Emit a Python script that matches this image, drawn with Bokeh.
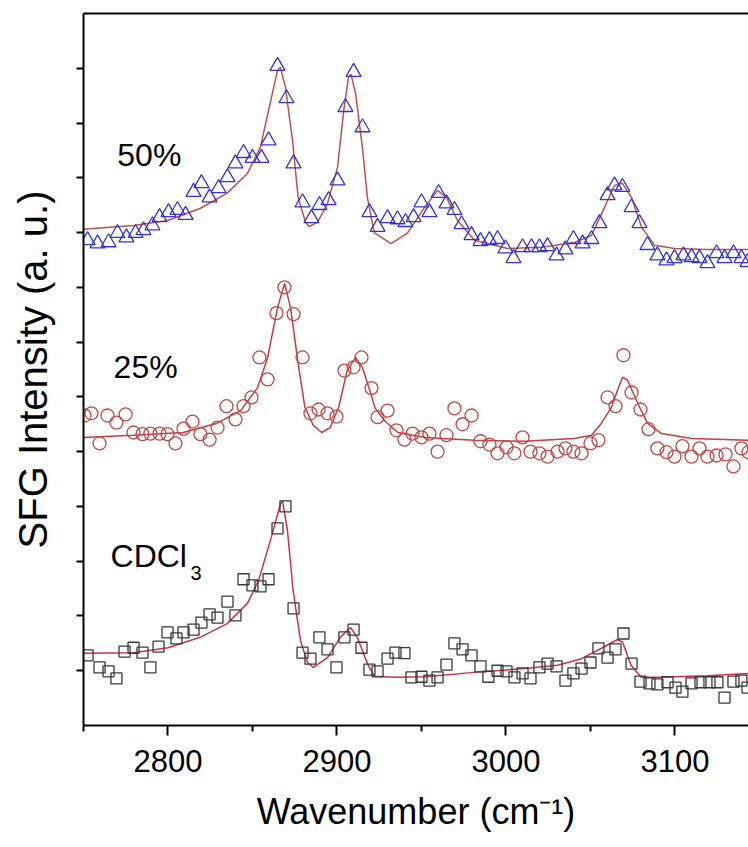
from bokeh.plotting import figure
from bokeh.models import Label, LinearAxis, FixedTicker, Range1d
from bokeh.embed import file_html
from bokeh.resources import INLINE

# ---------------- data ----------------
# 50 % sample (triangles)
w50 = [2752.4, 2758.3, 2764.8, 2770.1, 2775.4, 2780.8, 2785.5, 2790.8, 2795.0, 2800.3,
       2805.6, 2810.4, 2815.1, 2819.8, 2824.6, 2829.9, 2835.2, 2839.9, 2844.7, 2850.0,
       2855.3, 2859.5, 2864.8, 2870.1, 2874.3, 2879.6, 2884.9, 2889.6, 2895.0, 2900.3,
       2905.0, 2909.8, 2915.1, 2919.2, 2924.0, 2929.9, 2935.8, 2940.5, 2945.3, 2950.0,
       2954.7, 2960.1, 2964.8, 2969.5, 2973.7, 2979.6, 2984.9, 2990.2, 2995.0, 2999.7,
       3004.4, 3009.8, 3015.1, 3019.8, 3024.6, 3029.9, 3035.2, 3039.9, 3045.3, 3050.6,
       3055.3, 3060.1, 3064.2, 3068.9, 3074.3, 3079.0, 3083.7, 3089.6, 3095.0, 3099.7,
       3105.0, 3109.8, 3114.5, 3119.2, 3124.6, 3129.3, 3134.6, 3139.3, 3142.9]
i50 = [8.86, 8.80, 8.82, 8.99, 8.91, 8.99, 9.04, 9.13, 9.28, 9.37,
       9.41, 9.32, 9.74, 9.90, 9.64, 9.81, 10.01, 10.26, 10.45, 10.36,
       10.36, 10.68, 12.04, 11.45, 10.26, 9.55, 9.26, 9.50, 9.59, 9.95,
       11.29, 11.93, 10.92, 9.37, 9.10, 9.26, 9.24, 9.19, 9.28, 9.55,
       9.37, 9.72, 9.53, 9.41, 9.15, 8.95, 8.84, 8.86, 8.88, 8.71,
       8.53, 8.73, 8.73, 8.73, 8.75, 8.58, 8.69, 8.88, 8.80, 8.88,
       9.17, 9.68, 9.86, 9.83, 9.46, 9.17, 8.77, 8.58, 8.49, 8.53,
       8.58, 8.55, 8.53, 8.44, 8.62, 8.53, 8.62, 8.53, 8.46]
fw50 = [2750.0, 2779.6, 2799.7, 2819.0, 2835.0, 2847.0, 2854.7, 2859.5, 2864.8, 2866.5,
        2869.5, 2873.7, 2877.0, 2881.4, 2883.5, 2888.5, 2894.4, 2900.3, 2904.0, 2906.8,
        2908.3, 2911.0, 2915.0, 2918.0, 2922.0, 2932.0, 2941.7, 2951.8, 2959.5, 2964.8,
        2971.3, 2981.4, 3000.9, 3021.0, 3040.5, 3050.6, 3058.3, 3064.2, 3068.9, 3074.3,
        3080.2, 3087.9, 3099.7, 3119.2, 3143.5]
fi50 = [9.06, 9.13, 9.22, 9.44, 9.72, 10.08, 10.56, 11.23, 11.96, 12.02,
        11.65, 10.68, 9.64, 9.19, 9.11, 9.19, 9.53, 10.19, 11.23, 11.84,
        11.89, 11.54, 10.56, 9.64, 9.00, 8.80, 8.99, 9.46, 9.77, 9.64,
        9.22, 8.86, 8.71, 8.73, 8.82, 8.95, 9.46, 9.86, 9.90, 9.64,
        9.10, 8.77, 8.71, 8.69, 8.69]

# 25 % sample (circles)
w25 = [2750.6, 2754.7, 2759.5, 2764.2, 2769.5, 2774.9, 2779.6, 2784.9, 2789.6, 2795.0,
       2799.7, 2804.4, 2809.2, 2814.5, 2819.2, 2824.6, 2829.3, 2834.6, 2839.9, 2844.7,
       2849.4, 2854.1, 2858.9, 2864.2, 2868.9, 2874.3, 2879.6, 2884.3, 2889.1, 2894.4,
       2899.7, 2904.4, 2909.8, 2914.5, 2920.4, 2924.0, 2929.9, 2935.2, 2939.9, 2944.7,
       2950.0, 2954.7, 2959.5, 2964.8, 2969.5, 2974.3, 2979.6, 2984.9, 2990.2, 2995.0,
       3000.3, 3005.0, 3009.8, 3014.5, 3019.8, 3024.6, 3030.5, 3035.2, 3039.9, 3044.7,
       3050.0, 3054.7, 3060.1, 3064.8, 3069.5, 3074.3, 3079.6, 3084.3, 3089.6, 3095.0,
       3099.7, 3104.4, 3109.8, 3114.5, 3119.2, 3124.6, 3129.9, 3134.6, 3139.3, 3143.5]
i25 = [5.66, 5.70, 5.15, 5.66, 5.53, 5.68, 5.35, 5.32, 5.33, 5.33,
       5.32, 5.15, 5.42, 5.55, 5.32, 5.22, 5.44, 5.83, 5.59, 5.83,
       5.99, 6.72, 6.32, 7.53, 8.00, 7.51, 6.72, 5.70, 5.77, 5.70,
       5.64, 6.48, 6.54, 6.72, 6.16, 5.63, 5.75, 5.39, 5.22, 5.33,
       5.26, 5.33, 5.00, 5.30, 5.79, 5.50, 5.66, 5.19, 5.13, 4.97,
       5.08, 4.97, 5.26, 5.00, 4.97, 4.91, 5.00, 5.06, 5.00, 4.97,
       5.15, 5.21, 5.99, 5.83, 6.76, 6.08, 5.77, 5.41, 5.06, 4.99,
       4.91, 5.10, 4.91, 5.06, 4.91, 4.93, 4.95, 4.73, 5.06, 4.99]
fw25 = [2750.0, 2779.6, 2809.0, 2829.0, 2843.0, 2853.0, 2859.0, 2864.8, 2869.0, 2872.5,
        2877.0, 2881.0, 2886.0, 2891.0, 2896.0, 2901.0, 2906.0, 2911.0, 2915.0, 2920.0,
        2922.5, 2928.0, 2936.0, 2952.0, 2981.0, 3011.0, 3040.5, 3050.6, 3056.5, 3062.4,
        3066.0, 3069.0, 3072.0, 3078.0, 3083.7, 3092.0, 3110.0, 3143.5]
fi25 = [5.26, 5.30, 5.35, 5.52, 5.75, 6.17, 6.72, 7.63, 8.07, 7.63,
        6.61, 5.81, 5.48, 5.35, 5.44, 5.81, 6.48, 6.72, 6.54, 6.06,
        5.80, 5.57, 5.35, 5.26, 5.21, 5.19, 5.24, 5.30, 5.52, 5.81,
        6.12, 6.36, 6.30, 5.88, 5.52, 5.33, 5.24, 5.21]

# neat CDCl3 (squares)
wcd = [2752.4, 2759.5, 2764.8, 2769.5, 2774.3, 2779.6, 2784.9, 2789.6, 2794.4, 2799.7,
       2805.0, 2809.2, 2815.1, 2819.8, 2824.6, 2829.3, 2835.2, 2839.9, 2844.7, 2850.0,
       2854.7, 2859.5, 2864.8, 2869.5, 2874.3, 2879.6, 2884.3, 2889.6, 2894.4, 2899.7,
       2904.4, 2909.8, 2914.5, 2919.2, 2924.0, 2929.9, 2934.6, 2939.9, 2944.1, 2950.0,
       2954.7, 2959.5, 2964.8, 2969.5, 2974.3, 2979.6, 2984.9, 2989.6, 2995.0, 3000.3,
       3005.0, 3009.8, 3014.5, 3019.8, 3024.6, 3029.9, 3035.2, 3039.9, 3044.7, 3050.0,
       3054.7, 3060.1, 3064.8, 3069.5, 3074.3, 3079.6, 3084.9, 3089.6, 3095.6, 3100.3,
       3104.4, 3109.8, 3115.1, 3120.4, 3125.1, 3129.3, 3134.6, 3139.3, 3142.9]
icd = [1.28, 1.06, 0.99, 0.86, 1.35, 1.42, 1.33, 1.06, 1.44, 1.70,
       1.59, 1.70, 1.75, 1.88, 2.03, 1.97, 2.26, 2.01, 2.67, 2.56,
       2.54, 2.67, 3.60, 4.00, 2.14, 1.33, 1.22, 1.61, 1.39, 1.06,
       1.61, 1.75, 1.42, 1.02, 0.99, 1.22, 1.33, 1.32, 0.88, 0.89,
       0.82, 0.88, 1.11, 1.50, 1.39, 1.28, 1.08, 0.89, 1.00, 0.99,
       0.88, 0.95, 0.86, 1.06, 1.13, 1.08, 0.82, 0.95, 1.04, 1.15,
       1.41, 1.24, 1.39, 1.68, 1.13, 0.80, 0.77, 0.75, 0.79, 0.69,
       0.62, 0.77, 0.79, 0.79, 0.79, 0.51, 0.80, 0.82, 0.69]
fwcd = [2750.0, 2779.6, 2800.0, 2819.0, 2835.0, 2847.0, 2853.6, 2860.6, 2866.6, 2867.8,
        2870.7, 2874.0, 2878.4, 2882.5, 2886.0, 2894.4, 2902.0, 2908.0, 2912.0, 2918.0,
        2922.0, 2934.0, 2952.0, 2981.0, 3011.0, 3030.5, 3044.7, 3056.5, 3066.0, 3069.0,
        3074.0, 3080.0, 3089.6, 3119.0, 3143.5]
ficd = [1.32, 1.33, 1.42, 1.61, 1.86, 2.23, 2.65, 3.38, 4.05, 4.09,
        3.56, 2.47, 1.55, 1.15, 1.06, 1.24, 1.61, 1.79, 1.61, 1.13,
        0.90, 0.88, 0.89, 0.97, 1.04, 1.10, 1.22, 1.41, 1.57, 1.52,
        1.10, 0.88, 0.88, 0.91, 0.95]

x_ticks = [2800, 2900, 3000, 3100]
x_minor = [2750, 2850, 2950, 3050]
y_ticks = list(range(1, 13))
labels = ["50%", "25%", "CDCl"]

FONT = "Liberation Sans"

p = figure(width=748, height=847, x_range=Range1d(2750, 3143.5), y_range=Range1d(0, 13),
           output_backend="svg", toolbar_location=None,
           min_border_left=83, min_border_right=0, min_border_top=13, min_border_bottom=122,
           background_fill_color="white", border_fill_color="white")
p.outline_line_color = None
p.grid.visible = False

# bottom axis
xa = p.xaxis[0]
xa.ticker = FixedTicker(ticks=x_ticks, minor_ticks=x_minor)
xa.axis_line_width = 2
xa.axis_line_color = "black"
xa.major_tick_in = 0
xa.major_tick_out = 10
xa.minor_tick_in = 0
xa.minor_tick_out = 6
xa.major_tick_line_width = 2
xa.minor_tick_line_width = 2
xa.major_label_text_font = FONT
xa.major_label_text_font_size = "31px"
xa.major_label_text_color = "black"
xa.major_label_standoff = 14
xa.axis_label = "Wavenumber (cm\u207b\u00b9)"
xa.axis_label_text_font = FONT
xa.axis_label_text_font_size = "36px"
xa.axis_label_text_font_style = "normal"
xa.axis_label_text_color = "black"
xa.axis_label_standoff = 16

# left axis
ya = p.yaxis[0]
ya.ticker = FixedTicker(ticks=y_ticks, minor_ticks=[])
ya.major_label_overrides = {t: "" for t in y_ticks}
ya.axis_line_width = 2
ya.major_tick_in = 0
ya.major_tick_out = 7
ya.major_tick_line_width = 2
ya.minor_tick_out = 0
ya.minor_tick_in = 0
ya.major_label_standoff = 0
ya.axis_label = "SFG Intensity (a. u.)"
ya.axis_label_text_font = FONT
ya.axis_label_text_font_size = "40px"
ya.axis_label_text_font_style = "normal"
ya.axis_label_text_color = "black"
ya.axis_label_standoff = 22

# top frame line
top = LinearAxis(ticker=FixedTicker(ticks=[]), major_tick_out=0, major_tick_in=0,
                 minor_tick_out=0, minor_tick_in=0, major_label_standoff=0,
                 axis_line_width=2, major_label_text_font_size="0px")
p.add_layout(top, "above")

# fits
p.line(fw50, fi50, line_color="#c0504d", line_width=1.5)
p.line(fw25, fi25, line_color="#c83c3c", line_width=1.5)
p.line(fwcd, ficd, line_color="#d0304a", line_width=1.5)

# data
p.scatter(w50, i50, marker="triangle", size=15, fill_color=None,
          line_color="#3434d2", line_width=1.3)
p.scatter(w25, i25, marker="circle", size=13, fill_color=None,
          line_color="#c44848", line_width=1.3)
p.scatter(wcd, icd, marker="square", size=11, fill_color=None,
          line_color="#3a3a3a", line_width=1.3)

# series labels
for txt, x, y in [(labels[0], 2770.0, 10.41), (labels[1], 2767.8, 6.54), (labels[2], 2766.0, 3.10)]:
    p.add_layout(Label(x=x, y=y, text=txt, text_font=FONT, text_font_size="32px",
                       text_color="black", text_align="left", text_baseline="alphabetic"))
p.add_layout(Label(x=2813.3, y=2.79, text="3", text_font=FONT, text_font_size="20px",
                   text_color="black", text_align="left", text_baseline="alphabetic"))

open("out.html", "w").write(file_html(p, INLINE))
